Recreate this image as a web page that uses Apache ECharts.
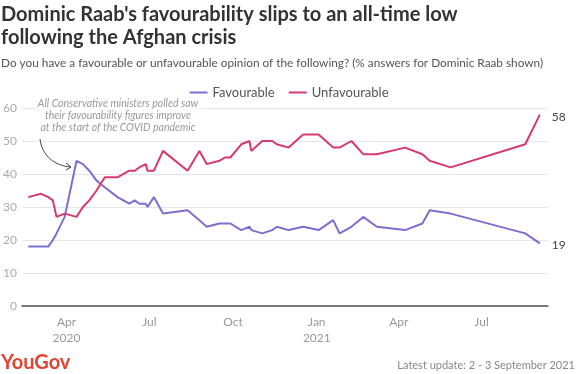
<!DOCTYPE html>
<html>
<head>
<meta charset="utf-8">
<script src="https://cdn.jsdelivr.net/npm/echarts@6/dist/echarts.min.js"></script>
<style>
html,body{margin:0;padding:0;background:#fff;}
#chart{width:578px;height:374px;}
</style>
</head>
<body>
<div id="chart"></div>
<script>
const dates = ['2020-02-19','2020-03-04','2020-03-12','2020-03-17','2020-03-21','2020-03-30','2020-04-12','2020-04-19','2020-04-26','2020-05-04','2020-05-13','2020-05-27','2020-06-09','2020-06-15','2020-06-20','2020-06-27','2020-06-29','2020-07-06','2020-07-16','2020-08-12','2020-08-25','2020-09-02','2020-09-16','2020-09-22','2020-09-28','2020-10-10','2020-10-19','2020-10-21','2020-11-02','2020-11-13','2020-11-18','2020-12-01','2020-12-17','2021-01-03','2021-01-19','2021-01-26','2021-02-08','2021-02-21','2021-03-08','2021-04-08','2021-04-27','2021-05-05','2021-05-28','2021-08-18','2021-09-03'];
const favourable = [18,18,18,20,22,27,44,43,41,38,36,33,31,32,31,31,30,33,28,29,26,24,25,25,25,23,24,23,22,23,24,23,24,23,26,22,24,27,24,23,25,29,28,22,19];
const unfavourable = [33,34,33,32,27,28,27,30,32,35,39,39,41,41,42,43,41,41,47,41,47,43,44,45,45,49,50,47,50,50,49,48,52,52,48,48,50,46,46,48,46,44,42,49,58];
const yTicks = [0,10,20,30,40,50,60];
const seriesNames = ['Favourable','Unfavourable'];
const colors = ['#7b6fcf','#d63a6b'];
const monthNames = ['Jan','Feb','Mar','Apr','May','Jun','Jul','Aug','Sep','Oct','Nov','Dec'];

const FONT = 'Lato';
const chart = echarts.init(document.getElementById('chart'), null, {renderer:'canvas'});
function pairs(vals){ return dates.map((d,i)=>[d, vals[i]]); }

chart.setOption({
  backgroundColor:'#fff',
  animation:false,
  textStyle:{fontFamily:FONT},
  title:{
    text:"Dominic Raab's favourability slips to an all-time low\nfollowing the Afghan crisis",
    subtext:'Do you have a favourable or unfavourable opinion of the following? (% answers for Dominic Raab shown)',
    left:0, top:0, padding:[3,0,0,1], itemGap:8,
    textStyle:{fontFamily:FONT, fontSize:20, fontWeight:'bold', color:'#333', lineHeight:23},
    subtextStyle:{fontFamily:FONT, fontSize:11.8, color:'#555'}
  },
  legend:{
    data:seriesNames, top:81, left:'center', itemGap:14, itemWidth:18, itemHeight:2,
    icon:'rect',
    textStyle:{fontFamily:FONT, fontSize:13, color:'#555'}
  },
  grid:{left:20, right:30, top:108, bottom:68, containLabel:false},
  xAxis:{
    type:'time', min:'2020-02-12', max:'2021-09-12', splitNumber:6,
    axisLine:{show:true, lineStyle:{color:'#555', width:1.5}},
    axisTick:{show:false},
    splitLine:{show:false},
    axisLabel:{
      color:'#999', fontSize:12, fontFamily:FONT, lineHeight:16, margin:8,
      showMinLabel:false, showMaxLabel:false, hideOverlap:false,
      formatter:function(v){
        const d = new Date(v);
        if (d.getDate()!==1 || d.getMonth()%3!==0) return '';
        const m = monthNames[d.getMonth()];
        if (d.getMonth()===0 || (d.getMonth()===3 && d.getFullYear()===2020)) return m+'\n'+d.getFullYear();
        return m;
      }
    }
  },
  yAxis:{
    type:'value', min:yTicks[0], max:yTicks[yTicks.length-1], interval:10,
    axisLine:{show:false}, axisTick:{show:false},
    splitLine:{lineStyle:{color:'#e6e6e6', width:1}},
    axisLabel:{color:'#aaa', fontSize:12, fontFamily:FONT, margin:5}
  },
  series:[
    {name:seriesNames[0], type:'line', data:pairs(favourable), showSymbol:false, symbol:'none',
     lineStyle:{color:colors[0], width:2}, itemStyle:{color:colors[0]},
     endLabel:{show:true, formatter:p=>p.value[1], color:'#444', fontSize:12, fontFamily:FONT, distance:12, offset:[0,2]}},
    {name:seriesNames[1], type:'line', data:pairs(unfavourable), showSymbol:false, symbol:'none',
     lineStyle:{color:colors[1], width:2}, itemStyle:{color:colors[1]},
     endLabel:{show:true, formatter:p=>p.value[1], color:'#444', fontSize:12, fontFamily:FONT, distance:12, offset:[0,3]}}
  ],
  graphic:[
    {type:'text', x:118, y:98, z:10, style:{text:'All Conservative ministers polled saw\ntheir favourability figures improve\nat the start of the COVID pandemic',
      fill:'#999', font:'italic 10.5px '+FONT, textAlign:'center', lineHeight:12, backgroundColor:'#fff', padding:[0,3]}},
    {type:'bezierCurve', z:10, shape:{x1:40, y1:139, cpx1:42, cpy1:156, cpx2:55, cpy2:166, x2:71, y2:167}, style:{stroke:'#444', lineWidth:1, fill:null}},
    {type:'polyline', z:10, shape:{points:[[66,163],[71,167],[66,170]]}, style:{stroke:'#444', lineWidth:1, fill:null}},
    {type:'text', x:1, y:353, style:{text:'YouGov', fill:'#e2442f', font:'bold 20px '+FONT}},
    {type:'text', right:3, y:360, style:{text:'Latest update: 2 - 3 September 2021', fill:'#888', font:'11px '+FONT, textAlign:'right'}}
  ]
});
</script>
</body>
</html>
